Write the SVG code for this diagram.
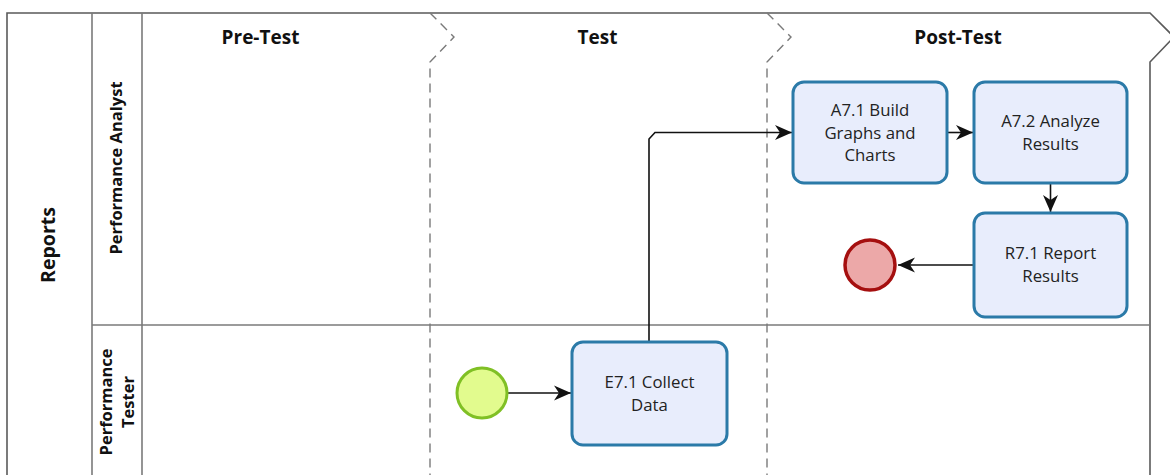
<svg xmlns="http://www.w3.org/2000/svg" width="1170" height="475" viewBox="0 0 1170 475">
  <style>
    .frame { fill: none; stroke: #5a5a5a; stroke-width: 1.6; }
    .lane { fill: none; stroke: #7a7a7a; stroke-width: 1.6; }
    .phase { fill: none; stroke: #7a7a7a; stroke-width: 1.4; stroke-dasharray: 9 6; }
    .hdr { font-family: "Open Sans", "Liberation Sans", sans-serif; font-weight: bold; font-size: 19px; fill: #111; text-anchor: middle; }
    .lbl { font-family: "Open Sans", "Liberation Sans", sans-serif; font-weight: bold; font-size: 16.5px; fill: #111; text-anchor: middle; }
    .pool { font-family: "Open Sans", "Liberation Sans", sans-serif; font-weight: bold; font-size: 19.5px; fill: #111; text-anchor: middle; }
    .task rect { fill: #e8edfc; stroke: #2b7aa8; stroke-width: 3; }
    .task text { font-family: "Open Sans", "Liberation Sans", sans-serif; font-size: 16.8px; fill: #222; text-anchor: middle; }
    .flow { fill: none; stroke: #111; stroke-width: 1.6; marker-end: url(#arrow); }
  </style>
  <defs>
    <marker id="arrow" markerUnits="userSpaceOnUse" markerWidth="18" markerHeight="18" refX="17" refY="9" orient="auto">
      <path d="M0,1.5 L17,9 L0,16.5 L5,9 Z" fill="#111"/>
    </marker>
  </defs>

  <rect width="1170" height="475" fill="#ffffff"/>

  <!-- pool and lanes -->
  <g id="pool">
    <path class="frame" d="M7,475 V13 H1150 L1174,37 L1150,62 V475"/>
    <line class="lane" x1="92" y1="13" x2="92" y2="475"/>
    <line class="lane" x1="142" y1="13" x2="142" y2="475"/>
    <line class="lane" x1="92" y1="325" x2="1150" y2="325"/>
    <text class="pool" transform="translate(55,245) rotate(-90)">Reports</text>
  </g>
  <g id="lane-analyst">
    <text class="lbl" transform="translate(122,168) rotate(-90)">Performance Analyst</text>
  </g>
  <g id="lane-tester">
    <text class="lbl" transform="translate(112,402) rotate(-90)">Performance</text>
    <text class="lbl" transform="translate(134,402) rotate(-90)">Tester</text>
  </g>

  <!-- phases -->
  <g id="phase-pre">
    <text class="hdr" x="260.5" y="44">Pre-Test</text>
  </g>
  <g id="phase-test">
    <path class="phase" d="M430,13 L454,37 L430,62 V475"/>
    <text class="hdr" x="597.5" y="44">Test</text>
  </g>
  <g id="phase-post">
    <path class="phase" d="M767,13 L791,37 L767,62 V475"/>
    <text class="hdr" x="958" y="44">Post-Test</text>
  </g>

  <!-- connectors -->
  <g id="connectors">
    <path class="flow" d="M508,393 H571"/>
    <path class="flow" d="M649,342 V139 L655,132.5 H792"/>
    <path class="flow" d="M947,132.5 H973"/>
    <path class="flow" d="M1050.5,183 V212"/>
    <path class="flow" d="M974,265 H898"/>
  </g>

  <!-- events -->
  <g id="start-event">
    <circle cx="482" cy="393" r="25" fill="#e2fb8e" stroke="#80c025" stroke-width="3"/>
  </g>
  <g id="end-event">
    <circle cx="870" cy="265" r="25" fill="#eca8a8" stroke="#a50f0f" stroke-width="3.5"/>
  </g>

  <!-- tasks -->
  <g id="task-e71" class="task">
    <rect x="572" y="342" width="155" height="103" rx="11"/>
    <text x="649.5" y="388">E7.1 Collect</text>
    <text x="649.5" y="410.5">Data</text>
  </g>
  <g id="task-a71" class="task">
    <rect x="793" y="82" width="154" height="101" rx="11"/>
    <text x="870" y="116">A7.1 Build</text>
    <text x="870" y="138.5">Graphs and</text>
    <text x="870" y="161">Charts</text>
  </g>
  <g id="task-a72" class="task">
    <rect x="974" y="82" width="153" height="101" rx="11"/>
    <text x="1050.5" y="127">A7.2 Analyze</text>
    <text x="1050.5" y="149.5">Results</text>
  </g>
  <g id="task-r71" class="task">
    <rect x="974" y="213" width="153" height="104" rx="11"/>
    <text x="1050.5" y="259">R7.1 Report</text>
    <text x="1050.5" y="281.5">Results</text>
  </g>
</svg>
